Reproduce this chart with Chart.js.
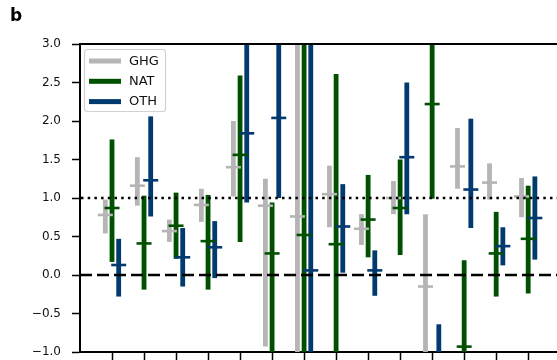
<!DOCTYPE html>
<html>
<head>
<meta charset="utf-8">
<script src="https://cdn.jsdelivr.net/npm/chart.js@4.4.1/dist/chart.umd.min.js"></script>
<style>
  html, body { margin: 0; padding: 0; background: #fff; }
  #wrap { width: 557px; height: 360px; }
</style>
</head>
<body>
<div id="wrap"><canvas id="chart" width="557" height="360"></canvas></div>
<script>
// group positions along the x axis (tick labels are cut off in the source)
const xPos = [1, 2, 3, 4, 5, 6, 7, 8, 9, 10, 11, 12, 13, 14];

// best estimate + range for each forcing
const ghgCenter = [0.78, 1.16, 0.57, 0.91, 1.40, 0.90, 0.76, 1.05, 0.60, 1.00, -0.15, 1.41, 1.20, 1.02];
const ghgLow    = [0.54, 0.90, 0.43, 0.69, 1.02, -0.93, -1.40, 0.62, 0.39, 0.79, -1.30, 1.12, 0.98, 0.75];
const ghgHigh   = [0.98, 1.53, 0.72, 1.12, 2.00, 1.25, 3.30, 1.42, 0.79, 1.22, 0.79, 1.91, 1.45, 1.26];

const natCenter = [0.87, 0.41, 0.64, 0.44, 1.56, 0.28, 0.52, 0.40, 0.72, 0.87, 2.22, -0.93, 0.28, 0.47];
const natLow    = [0.17, -0.19, 0.21, -0.19, 0.43, -1.30, -1.50, -1.20, 0.23, 0.26, 0.99, -2.00, -0.28, -0.24];
const natHigh   = [1.76, 1.03, 1.07, 1.04, 2.59, 0.94, 3.50, 2.61, 1.30, 1.50, 3.40, 0.19, 0.82, 1.16];

const othCenter = [0.13, 1.23, 0.23, 0.36, 1.84, 2.04, 0.06, 0.63, 0.06, 1.53, -1.20, 1.11, 0.375, 0.74];
const othLow    = [-0.28, 0.76, -0.15, -0.04, 0.94, 1.00, -1.30, 0.03, -0.27, 0.79, -1.60, 0.61, 0.125, 0.20];
const othHigh   = [0.47, 2.06, 0.61, 0.70, 3.30, 3.40, 3.20, 1.18, 0.32, 2.50, -0.64, 2.03, 0.62, 1.28];

const yTicks = [-1.0, -0.5, 0.0, 0.5, 1.0, 1.5, 2.0, 2.5, 3.0];
const refDashed = 0;
const refDotted = 1;

const FONT = 'DejaVu Sans';
const series = [
    { label: 'GHG', color: '#b5b5b5', center: ghgCenter, low: ghgLow, high: ghgHigh },
    { label: 'NAT', color: '#005000', center: natCenter, low: natLow, high: natHigh },
    { label: 'OTH', color: '#003a6e', center: othCenter, low: othLow, high: othHigh }
];

// center marks, reference lines, top spine and the boxed legend
const extrasPlugin = {
    id: 'extras',
    afterDatasetsDraw(chart) {
        const ctx = chart.ctx;
        const area = chart.chartArea;
        const y = chart.scales.y;
        ctx.save();
        ctx.beginPath();
        ctx.rect(area.left, area.top, area.right - area.left, area.bottom - area.top);
        ctx.clip();
        series.forEach(function(s, di) {
            const meta = chart.getDatasetMeta(di);
            ctx.strokeStyle = s.color;
            ctx.lineWidth = 2.6;
            meta.data.forEach(function(bar, i) {
                const py = y.getPixelForValue(s.center[i]);
                ctx.beginPath();
                ctx.moveTo(bar.x - 7.5, py);
                ctx.lineTo(bar.x + 7.5, py);
                ctx.stroke();
            });
        });
        ctx.strokeStyle = '#000';
        ctx.lineWidth = 2.5;
        ctx.setLineDash([12, 5]);
        let py = Math.round(y.getPixelForValue(refDashed));
        ctx.beginPath(); ctx.moveTo(area.left, py); ctx.lineTo(area.right, py); ctx.stroke();
        ctx.setLineDash([2.5, 4.2]);
        py = Math.round(y.getPixelForValue(refDotted));
        ctx.beginPath(); ctx.moveTo(area.left + 1, py); ctx.lineTo(area.right, py); ctx.stroke();
        ctx.restore();

        // top spine
        ctx.save();
        ctx.strokeStyle = '#000';
        ctx.lineWidth = 2;
        ctx.beginPath(); ctx.moveTo(area.left - 1, area.top); ctx.lineTo(area.right, area.top); ctx.stroke();
        ctx.restore();
    },
    afterDraw(chart) {
        const ctx = chart.ctx;
        const bx = 84.5, by = 49.5, bw = 81, bh = 62, r = 3;
        ctx.save();
        ctx.fillStyle = 'rgba(255,255,255,0.85)';
        ctx.strokeStyle = '#d2d2d2';
        ctx.lineWidth = 1.2;
        ctx.beginPath();
        ctx.roundRect(bx, by, bw, bh, r);
        ctx.fill();
        ctx.stroke();
        ctx.font = '13px "' + FONT + '"';
        ctx.textBaseline = 'middle';
        ctx.fillStyle = '#111';
        series.forEach(function(s, i) {
            const ly = 61 + i * 20.3;
            ctx.strokeStyle = s.color;
            ctx.lineWidth = 5;
            ctx.beginPath(); ctx.moveTo(89, ly); ctx.lineTo(121, ly); ctx.stroke();
            ctx.fillText(s.label, 129, ly + 0.5);
        });
        ctx.restore();
    }
};

const config = {
    type: 'bar',
    data: {
        datasets: series.map(function(s) {
            return {
                label: s.label,
                data: xPos.map(function(x, i) { return { x: x, y: [s.low[i], s.high[i]] }; }),
                backgroundColor: s.color,
                borderWidth: 0,
                categoryPercentage: 0.625,
                barPercentage: 0.72
            };
        })
    },
    options: {
        responsive: false,
        animation: false,
        events: [],
        layout: { padding: { left: 10, right: 0, top: 0, bottom: 0 } },
        plugins: {
            legend: { display: false },
            tooltip: { enabled: false },
            title: {
                display: true,
                text: 'b',
                align: 'start',
                color: '#000',
                font: { family: FONT, size: 17, weight: 'bold' },
                padding: { top: 6, bottom: 17.6 }
            }
        },
        scales: {
            x: {
                type: 'linear',
                min: 0,
                max: 14.9,
                offset: false,
                grid: { offset: false, drawOnChartArea: false, drawTicks: true, tickLength: 8, tickWidth: 1.5, tickColor: '#000' },
                border: { color: '#000', width: 2 },
                ticks: { display: false },
                afterBuildTicks: function(scale) {
                    scale.ticks = xPos.map(function(v) { return { value: v }; });
                },
                afterFit: function(scale) {
                    scale.height = 8;
                    scale.paddingLeft = 0;
                    scale.paddingRight = 0;
                }
            },
            y: {
                min: -1,
                max: 3,
                stacked: false,
                grid: { drawOnChartArea: false, drawTicks: true, tickLength: 8, tickWidth: 1.5, tickColor: '#000' },
                border: { color: '#000', width: 2 },
                afterBuildTicks: function(scale) {
                    scale.ticks = yTicks.map(function(v) { return { value: v }; });
                },
                ticks: {
                    padding: 11,
                    color: '#111',
                    font: { family: FONT, size: 12 },
                    callback: function(v) {
                        return (v < 0 ? '\u2212' : '') + Math.abs(v).toFixed(1);
                    }
                },
                afterFit: function(scale) {
                    scale.width = 70;
                    scale.paddingTop = 0;
                    scale.paddingBottom = 0;
                }
            }
        }
    },
    plugins: [extrasPlugin]
};

new Chart(document.getElementById('chart'), config);
</script>
</body>
</html>
